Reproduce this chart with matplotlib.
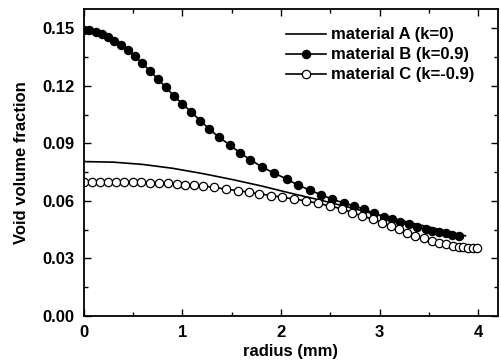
import matplotlib
matplotlib.use("Agg")
import matplotlib.pyplot as plt
from matplotlib.ticker import MultipleLocator

plt.rcParams['font.family'] = ['Liberation Sans', 'DejaVu Sans']
plt.rcParams['font.weight'] = 'bold'

# material A (k=0), solid line
radius_a = [0.0, 0.3, 0.6, 0.9, 1.2, 1.5, 1.8, 2.1, 2.4, 2.7, 3.0, 3.3, 3.6, 3.87]
void_a = [0.0805, 0.0802, 0.0790, 0.0770, 0.0743, 0.0712, 0.0678, 0.0640,
          0.0604, 0.0565, 0.0525, 0.0488, 0.0452, 0.0418]

# material B (k=0.9), filled circles
radius_b = [0.0, 0.05, 0.12, 0.18, 0.25, 0.31, 0.38, 0.45, 0.52, 0.59, 0.67,
            0.75, 0.83, 0.91, 1.00, 1.09, 1.18, 1.27, 1.37, 1.48, 1.58, 1.69,
            1.81, 1.93, 2.06, 2.17, 2.29, 2.41, 2.52, 2.64,
            2.74, 2.84, 2.94, 3.04, 3.13, 3.21, 3.30, 3.38, 3.47, 3.53, 3.60,
            3.67, 3.73, 3.80]
void_b = [0.1492, 0.1489, 0.1480, 0.1470, 0.1454, 0.1436, 0.1414, 0.1388,
          0.1353, 0.1318, 0.1278, 0.1235, 0.1193, 0.1149, 0.1106, 0.1063,
          0.1019, 0.0976, 0.0932, 0.0892, 0.0852, 0.0814,
          0.0776, 0.0745, 0.0713, 0.0683, 0.0657, 0.0631, 0.0609, 0.0588,
          0.0574, 0.0557, 0.0536, 0.0518, 0.0505, 0.0492, 0.0478, 0.0466,
          0.0454, 0.0445, 0.0438, 0.0431, 0.0424, 0.0419]

# material C (k=-0.9), open circles
radius_c = [0.0, 0.08, 0.16, 0.25, 0.33, 0.41, 0.50, 0.58, 0.67, 0.76, 0.85,
            0.94, 1.03, 1.12, 1.21, 1.32, 1.44, 1.56, 1.67, 1.78, 1.90, 2.01,
            2.13, 2.25, 2.37, 2.50, 2.62, 2.72, 2.82, 2.93, 3.02, 3.11, 3.20,
            3.28, 3.36, 3.45, 3.53, 3.60, 3.67, 3.74, 3.80, 3.85, 3.90, 3.95,
            3.99]
void_c = [0.0701, 0.0701, 0.0701, 0.0701, 0.0701, 0.0699, 0.0698, 0.0698,
          0.0695, 0.0694, 0.0692, 0.0689, 0.0685, 0.0682, 0.0677, 0.0671,
          0.0661, 0.0654, 0.0645, 0.0637, 0.0628, 0.0619, 0.0610, 0.0600,
          0.0588, 0.0573, 0.0558, 0.0539, 0.0522, 0.0505, 0.0487, 0.0470,
          0.0452, 0.0435, 0.0419, 0.0405, 0.0393, 0.0382, 0.0374, 0.0367,
          0.0362, 0.0358, 0.0356, 0.0355, 0.0353]

fig = plt.figure(figsize=(5.02, 3.62), dpi=100)
ax = fig.add_axes([0.167, 0.127, 0.825, 0.848])

ax.plot(radius_a, void_a, color='black', lw=1.2, label='material A (k=0)')
ax.plot(radius_b, void_b, color='black', lw=1.2, marker='o', ms=5.8,
        mfc='black', mec='black', label='material B (k=0.9)')
ax.plot(radius_c, void_c, color='black', lw=1.2, marker='o', ms=6,
        mfc='white', mec='black', mew=0.9, label='material C (k=-0.9)')

ax.set_xlim(0, 4.2)
ax.set_ylim(0, 0.16)
ax.xaxis.set_major_locator(MultipleLocator(1))
ax.xaxis.set_minor_locator(MultipleLocator(0.5))
ax.yaxis.set_major_locator(MultipleLocator(0.03))
ax.yaxis.set_minor_locator(MultipleLocator(0.015))
ax.yaxis.set_major_formatter(matplotlib.ticker.FormatStrFormatter('%.2f'))

ax.tick_params(which='both', direction='in', top=True, right=True,
               width=1.0, labelsize=12, pad=6.5)
ax.tick_params(which='major', length=5)
ax.tick_params(which='minor', length=3)
for s in ax.spines.values():
    s.set_linewidth(1.3)

ax.set_xlabel('radius (mm)', fontsize=12, fontweight='bold', labelpad=3)
ax.set_ylabel('Void volume fraction', fontsize=12, fontweight='bold', labelpad=10)

leg = ax.legend(loc='upper right', bbox_to_anchor=(0.958, 0.962),
                borderaxespad=0, frameon=False, fontsize=12,
                handlelength=2.4, handletextpad=0.3, labelspacing=0.3)
for t in leg.get_texts():
    t.set_fontweight('bold')

fig.savefig('out.png', dpi=100)
